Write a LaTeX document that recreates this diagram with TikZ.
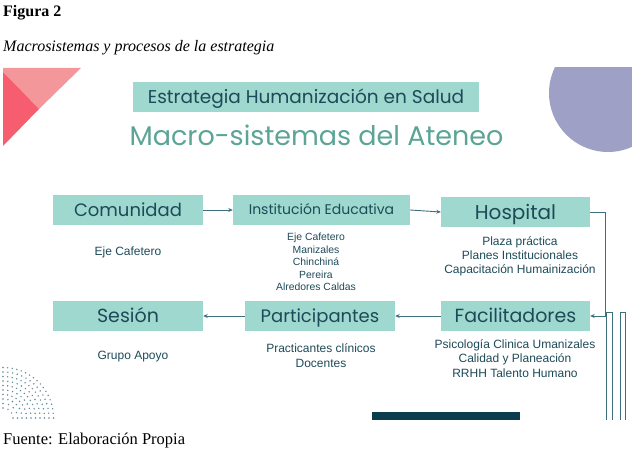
\documentclass[tikz,border=0pt]{standalone}
\usepackage{fontspec}
\usetikzlibrary{arrows.meta}
\setmainfont{Liberation Serif}
\newfontfamily\bodyf{Liberation Sans}
\newfontfamily\headf{Poppins}
\definecolor{boxfill}{HTML}{9ED8CE}
\definecolor{boxtxt}{HTML}{1D4A58}
\definecolor{midteal}{HTML}{5BA496}
\definecolor{linec}{HTML}{3E6F7C}
\definecolor{pinkl}{HTML}{F4979A}
\definecolor{pinkd}{HTML}{F65D6E}
\definecolor{lav}{HTML}{9FA0C6}
\definecolor{darkbar}{HTML}{0B3D4E}
\definecolor{dotc}{HTML}{5F8A96}
\begin{document}
\begin{tikzpicture}[x=1pt,y=-1pt,
  box/.style={fill=boxfill, draw=none, inner sep=0pt, text=boxtxt, minimum height=30pt, text depth=0pt},
  lbl/.style={font=\bodyf\fontsize{12}{14}\selectfont, text=boxtxt, align=center, inner sep=0pt},
  conn/.style={draw=linec, line width=0.9pt, -{Stealth[length=4.5pt,width=4pt]}},
  plainline/.style={draw=linec, line width=0.9pt},
  serif/.style={anchor=base west, inner sep=0pt, text=black}
]
\useasboundingbox (0,0) rectangle (632,460);

% header texts
\node[serif, font=\bfseries\fontsize{16}{16}\selectfont] (fig) at (3,17) {Figura 2};
\node[serif, font=\itshape\fontsize{16}{16}\selectfont] (cap) at (3,52) {Macrosistemas y procesos de la estrategia};
\node[serif, font=\fontsize{16.5}{16.5}\selectfont] (src) at (3,444) {Fuente: Elaboración Propia};

% decorations
\fill[pinkl] (3,68) -- (81,68) -- (39,109) -- (3,72) -- cycle;
\fill[pinkd] (3,72) -- (39,109) -- (3,146) -- cycle;
\begin{scope}
  \clip (0,68) rectangle (632,460);
  \fill[lav] (608,93) circle (59);
\end{scope}
\foreach \r in {10,14.5,...,50.5} {
  \pgfmathtruncatemacro\nd{\r*1.5708/4.6}
  \foreach \k in {0,...,\nd} {
    \fill[dotc] ({3+\r*cos(90*\k/\nd)},{418-\r*sin(90*\k/\nd)}) circle (0.8);
  }
}
\fill[darkbar] (372,412) rectangle (520,420);

% titles
\node[box, minimum width=346pt, text height=12.5pt, font=\headf\fontsize{18.5}{18.5}\selectfont] (est) at (306,97) {Estrategia Humanización en Salud};
\node[anchor=base, inner sep=0pt, text=midteal, font=\headf\fontsize{27}{27}\selectfont] (macro) at (316.5,145) {Macro-sistemas del Ateneo};

% boxes
\node[box, minimum width=150pt, text height=12.6pt, font=\headf\fontsize{18}{18}\selectfont] (com) at (128,210) {Comunidad};
\node[box, minimum width=177pt, text height=9.8pt, font=\headf\fontsize{14}{14}\selectfont] (inst) at (321.5,210) {Institución Educativa};
\node[box, minimum width=149pt, text height=14pt, font=\headf\fontsize{20}{20}\selectfont] (hosp) at (515.5,212) {Hospital};
\node[box, minimum width=149pt, text height=13.3pt, font=\headf\fontsize{19}{19}\selectfont] (fac) at (515.5,316) {Facilitadores};
\node[box, minimum width=150pt, text height=13.3pt, font=\headf\fontsize{19}{19}\selectfont] (ses) at (128,316) {Sesión};
\node[box, minimum width=150pt, text height=12.6pt, font=\headf\fontsize{18}{18}\selectfont] (part) at (320,316) {Participantes};

% lists
\node[lbl] (l1) at (128,252) {Eje Cafetero};
\node[lbl, font=\bodyf\fontsize{10.4}{12.5}\selectfont] (l2) at (316,262) {Eje Cafetero\\Manizales\\Chinchiná\\Pereira\\Alredores Caldas};
\node[lbl] (l3) at (520,256) {Plaza práctica\\Planes Institucionales\\Capacitación Humainización};
\node[lbl, font=\bodyf\fontsize{12}{14.5}\selectfont] (l4) at (515,358.5) {Psicología Clinica Umanizales\\Calidad y Planeación\\RRHH Talento Humano};
\node[lbl] (l5) at (133,357) {Grupo Apoyo};
\node[lbl, font=\bodyf\fontsize{12}{15}\selectfont] (l6) at (321,355.5) {Practicantes clínicos\\Docentes};

% connectors
\coordinate (turn) at (605,212);
\draw[conn] (com.east) -- (inst.west);
\draw[conn] (inst.east) -- (hosp.west);
\draw[conn] (hosp.east) -- (turn) |- (fac.east);
\draw[conn] (fac.west) -- (part.east);
\draw[conn] (part.west) -- (ses.east);
\draw[plainline] (606,420) -- (606,312) -- (612,312) -- (612,420);
\draw[plainline] (620,420) -- (620,312) -- (625,312) -- (625,420);
\end{tikzpicture}
\end{document}
